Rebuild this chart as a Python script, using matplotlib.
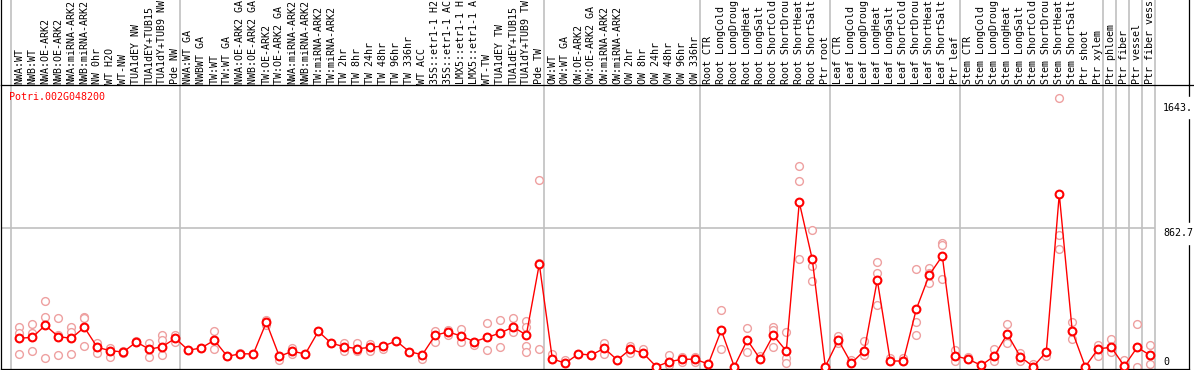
import matplotlib
matplotlib.use("Agg")
import matplotlib.pyplot as plt

# sample labels (as shown, truncated to 14 chars)
labels = [
    "NWA:WT", "NWB:WT", "NWA:OE-ARK2", "NWB:OE-ARK2", "NWA:miRNA-ARK2", "NWB:miRNA-ARK2",
    "NW 0hr", "WT H2O", "WT-NW", "TUA1dEY NW", "TUA1dEY+TUB15", "TUA1dY+TUB9 NW", "Pde NW",
    "NWA:WT GA", "NWBWT GA", "TW:WT", "TW:WT GA", "NWA:OE-ARK2 GA", "NWB:OE-ARK2 GA",
    "TW:OE-ARK2", "TW:OE-ARK2 GA", "NWA:miRNA-ARK2", "NWB:miRNA-ARK2", "TW:miRNA-ARK2",
    "TW:miRNA-ARK2", "TW 2hr", "TW 8hr", "TW 24hr", "TW 48hr", "TW 96hr", "TW 336hr",
    "WT ACC", "35S::etr1-1 H2", "35S::etr1-1 AC", "LMX5::etr1-1 H", "LMX5::etr1-1 A",
    "WT-TW", "TUA1dEY TW", "TUA1dEY+TUB15", "TUA1dY+TUB9 TW", "Pde TW",
    "OW:WT", "OW:WT GA", "OW:OE-ARK2", "OW:OE-ARK2 GA", "OW:miRNA-ARK2", "OW:miRNA-ARK2",
    "OW 2hr", "OW 8hr", "OW 24hr", "OW 48hr", "OW 96hr", "OW 336hr",
    "Root CTR", "Root LongCold", "Root LongDroug", "Root LongHeat", "Root LongSalt",
    "Root ShortCold", "Root ShortDrou", "Root ShortHeat", "Root ShortSalt", "Ptr root",
    "Leaf CTR", "Leaf LongCold", "Leaf LongDroug", "Leaf LongHeat", "Leaf LongSalt",
    "Leaf ShortCold", "Leaf ShortDrou", "Leaf ShortHeat", "Leaf ShortSalt", "Ptr leaf",
    "Stem CTR", "Stem LongCold", "Stem LongDroug", "Stem LongHeat", "Stem LongSalt",
    "Stem ShortCold", "Stem ShortDrou", "Stem ShortHeat", "Stem ShortSalt", "Ptr shoot",
    "Ptr xylem", "Ptr phloem", "Ptr fiber", "Ptr vessel", "Ptr fiber vess",
]

# mean expression per sample
means = [
    180, 186, 261, 190, 180, 248, 124, 103, 95, 157, 112, 128, 180,
    106, 120, 168, 68, 84, 83, 279, 68, 99, 83, 223, 149, 128, 115, 124, 132, 163,
    97, 78, 200, 219, 194, 159, 186, 213, 250, 200, 641,
    53, 25, 83, 76, 118, 45, 112, 87, 4, 35, 50, 50,
    20, 230, 4, 169, 50, 199, 101, 1024, 670, 4,
    169, 25, 103, 542, 39, 39, 360, 573, 691, 70,
    50, 12, 70, 207, 66, 4, 95, 1074, 223, 4, 115,
    124, 8, 124, 74,
]

# replicate values per sample
reps = [
    [252, 211, 83], [269, 211, 101], [410, 310, 56], [304, 200, 74], [252, 221, 83],
    [310, 304, 132], [153, 124, 87], [118, 103, 66], [103, 95, 89], [163, 157],
    [153, 112, 66], [200, 169, 76], [200, 180, 159],
    [106], [120], [225, 168, 112], [68], [89, 84], [83], [294, 279, 263], [68, 45],
    [122, 99, 81], [83], [223], [149], [153, 128, 99], [149, 115, 99], [143, 124, 99],
    [132, 112], [163], [97], [78, 52], [227, 200, 159], [232, 219, 200], [238, 194, 159],
    [159, 137], [275, 186, 106], [292, 213, 124], [304, 250, 217], [286, 252, 134, 93],
    [1161, 650, 112],
    [83, 53], [45, 25], [83], [76], [153, 118, 83], [45], [134, 112, 87], [112, 87],
    [4], [74, 35, 14], [62, 50, 35], [62, 50, 35],
    [20], [356, 230, 112], [4], [242, 169, 93], [70, 50], [252, 232, 128],
    [219, 56, 29], [1248, 1156, 670], [850, 631, 534], [4],
    [194, 169, 149], [45, 25], [163, 103, 76], [652, 585, 385], [56, 39], [56, 39],
    [608, 279, 199], [614, 584, 521], [770, 757, 546], [107, 70, 39],
    [62, 50], [12], [115, 70, 39], [269, 207, 149], [87, 66, 39], [20, 4], [95, 70],
    [1670, 819, 732], [279, 223, 174], [4], [138, 115, 70], [178, 124, 97], [45, 8],
    [267, 124, 0], [137, 74, 19],
]

# last sample index of each group (separator drawn after it)
sep_after = [-1, 12, 40, 52, 62, 72, 83, 84, 85, 86, 87]
gene = "Potri.002G048200"
mid_val = 862.7
max_label = "1643."
max_val = 1643

mono = "DejaVu Sans Mono"
fs = 7.2
gray = "#c0c0c0"

W, H = 1194, 370
fig = plt.figure(figsize=(W / 100, H / 100), dpi=100)
ax = fig.add_axes([1 / W, 1 / H, 1188 / W, 284 / H])
ax.set_xlim(-1.41, 89.98)
ax.set_ylim(-10.6, 1752)

x = list(range(len(labels)))

# separators, through the header too
head = 1 + 85 / 284
for s in sep_after:
    ax.axvline(s + 0.38, ymin=0, ymax=head, color=gray, lw=1.2, clip_on=False, zorder=0)
ax.hlines(mid_val, -1.41, 87.38, color=gray, lw=1.2, zorder=0)

# replicates
for i, r in enumerate(reps):
    ax.plot([i] * len(r), r, "o", ms=5.6, mfc="white", mec="#eea0a0", mew=1.0,
            zorder=2, clip_on=False)

# means
ax.plot(x, means, "-", color="red", lw=1.0, zorder=3)
ax.plot(x, means, "o", ms=5.6, mfc="white", mec="red", mew=1.5, zorder=4)

# frame
for sp in ax.spines.values():
    sp.set_color("black")
    sp.set_linewidth(0.9)
for xa in (0, 1):
    ax.plot([xa, xa], [1, head], transform=ax.transAxes, color="black", lw=0.9,
            clip_on=False)
ax.plot([1, 1.005], [1, 1], transform=ax.transAxes, color="black", lw=0.9, clip_on=False)

# sample labels along the top
ax.set_xticks(x)
ax.set_xticklabels(labels, rotation=90, fontfamily=mono, fontsize=fs)
ax.tick_params(axis="x", top=True, bottom=False, labeltop=True, labelbottom=False,
               length=0, pad=1)
ax.set_yticks([])

ax.text(-0.79, 1677, gene, color="red", fontfamily=mono, fontsize=fs,
        ha="left", va="center")
ax.text(88.0, max_val, max_label, fontfamily=mono, fontsize=fs, ha="left", va="top",
        backgroundcolor="white")
ax.text(88.0, mid_val, f"{mid_val}", fontfamily=mono, fontsize=fs, ha="left", va="top",
        backgroundcolor="white")
ax.text(88.0, 0, "0", fontfamily=mono, fontsize=fs, ha="left", va="bottom")

fig.savefig("out.png", dpi=100)
